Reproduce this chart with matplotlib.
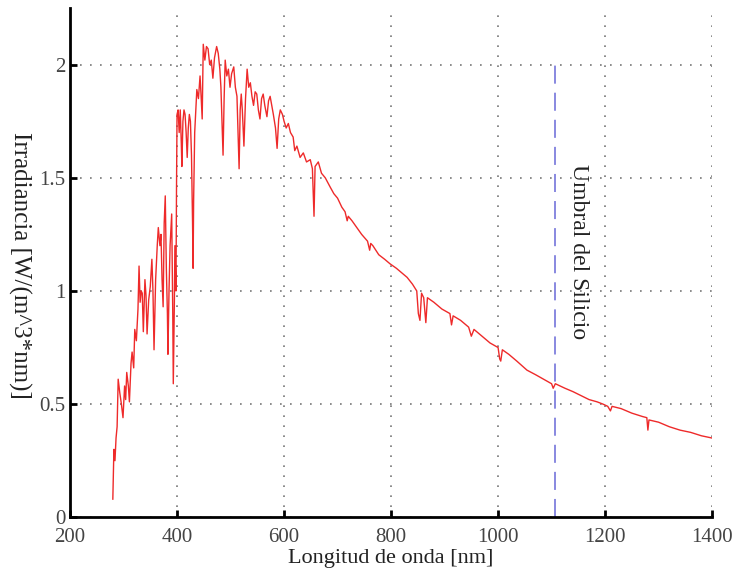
import matplotlib
matplotlib.use("Agg")
import matplotlib.pyplot as plt

plt.rcParams['font.family'] = ['Liberation Serif', 'DejaVu Serif']

# espectro solar leido a ojo de la figura
wl = [280, 282, 284, 286, 288, 290, 293, 296, 299, 302, 304, 306, 309, 311, 314, 316, 319, 321, 324, 327,
      329, 331, 333, 335, 337, 340, 342, 344, 347, 350, 353, 355, 357, 360, 363, 365, 368, 370, 372, 374,
      376, 378, 380, 382, 383, 385, 387, 390, 392, 393, 395, 396, 398, 399, 400, 402, 404, 406, 408, 409,
      411, 413, 415, 417, 419, 421, 423, 425, 427, 429, 430, 431, 433, 435, 437, 440, 443, 445, 447, 449,
      452, 455, 458, 461, 464, 467, 470, 474, 477, 480, 482, 484, 486, 488, 490, 493, 496, 499, 502, 506,
      509, 512, 514, 516, 518, 520, 522, 525, 528, 531, 534, 537, 540, 543, 546, 549, 552, 555, 558, 561,
      564, 568, 571, 574, 577, 580, 584, 587, 590, 593, 597, 600, 604, 608, 612, 617, 620, 624, 630, 636,
      642, 649, 653, 656, 658, 664, 670, 677, 686, 693, 700, 708, 714, 718, 720, 727, 736, 745, 756, 760,
      762, 766, 777, 788, 798, 810, 820, 830, 840, 848, 851, 854, 857, 861, 865, 868, 880, 895, 910, 913,
      916, 930, 945, 950, 955, 970, 985, 1000, 1003, 1005, 1008, 1020, 1035, 1054, 1070, 1085, 1100, 1103, 1107, 1125,
      1140, 1153, 1170, 1185, 1196, 1205, 1210, 1213, 1230, 1250, 1270, 1278, 1280, 1282, 1300, 1320, 1340, 1360, 1380, 1400]
irr = [0.08, 0.30, 0.25, 0.35, 0.40, 0.61, 0.55, 0.50, 0.44, 0.58, 0.52, 0.64, 0.58, 0.51, 0.68, 0.73, 0.66, 0.83, 0.78, 0.92,
       1.11, 0.95, 1.00, 0.99, 0.82, 1.05, 0.98, 0.81, 0.96, 1.02, 1.14, 1.00, 0.74, 1.05, 1.20, 1.28, 1.20, 1.25, 1.05, 0.93,
       1.30, 1.42, 1.10, 0.90, 0.72, 1.00, 1.20, 1.34, 0.90, 0.59, 0.95, 1.20, 1.00, 1.45, 1.78, 1.80, 1.70, 1.80, 1.65, 1.55,
       1.75, 1.80, 1.78, 1.70, 1.59, 1.72, 1.78, 1.75, 1.60, 1.30, 1.10, 1.40, 1.70, 1.80, 1.89, 1.85, 1.95, 1.86, 1.76, 2.09,
       2.02, 2.08, 2.07, 2.00, 2.02, 1.94, 2.03, 2.08, 2.05, 1.98, 1.90, 1.75, 1.60, 1.85, 2.02, 1.95, 1.98, 1.90, 1.96, 1.99,
       1.90, 1.86, 1.70, 1.54, 1.80, 1.87, 1.80, 1.64, 1.85, 1.98, 1.90, 1.92, 1.86, 1.82, 1.88, 1.87, 1.80, 1.76, 1.85, 1.87,
       1.82, 1.77, 1.84, 1.86, 1.82, 1.78, 1.72, 1.63, 1.76, 1.80, 1.78, 1.75, 1.72, 1.74, 1.70, 1.68, 1.62, 1.64, 1.59, 1.61,
       1.57, 1.58, 1.54, 1.33, 1.55, 1.57, 1.52, 1.50, 1.46, 1.43, 1.41, 1.37, 1.35, 1.31, 1.33, 1.31, 1.28, 1.25, 1.22, 1.18,
       1.21, 1.20, 1.16, 1.14, 1.12, 1.10, 1.08, 1.06, 1.03, 1.00, 0.90, 0.87, 0.99, 0.97, 0.86, 0.97, 0.95, 0.92, 0.90, 0.85,
       0.89, 0.87, 0.84, 0.80, 0.83, 0.80, 0.77, 0.75, 0.70, 0.69, 0.74, 0.72, 0.69, 0.65, 0.63, 0.61, 0.59, 0.57, 0.59, 0.57,
       0.555, 0.54, 0.52, 0.51, 0.50, 0.49, 0.47, 0.49, 0.48, 0.46, 0.445, 0.44, 0.385, 0.43, 0.42, 0.40, 0.385, 0.375, 0.36, 0.35]

umbral = 1107
umbral_top = 2.0
xticks = [200, 400, 600, 800, 1000, 1200, 1400]
yticks = [0, 0.5, 1, 1.5, 2]

fig = plt.figure(figsize=(7.41, 5.76), dpi=100)
ax = fig.add_axes([0.0945, 0.102, 0.8665, 0.884])

ax.plot(wl, irr, color='#ee2a2a', lw=1.0)
ax.plot([umbral, umbral], [0, umbral_top], color='#7f7fdd', lw=1.3, dashes=(10, 5))

ax.set_xlim(200, 1400)
ax.set_ylim(0, 2.25)
ax.set_xticks(xticks)
ax.set_yticks(yticks)
ax.set_yticklabels(['0', '0.5', '1', '1.5', '2'])
ax.grid(True, color='#777777', linestyle=(0, (1, 5)), lw=1.2)

for s in ['top', 'right']:
    ax.spines[s].set_visible(False)
for s in ['left', 'bottom']:
    ax.spines[s].set_linewidth(2)
ax.tick_params(direction='in', length=5, width=2, labelsize=15, labelcolor='#444444')
ax.tick_params(axis='x', pad=8)

ax.set_xlabel('Longitud de onda [nm]', fontsize=16, color='#222222', labelpad=1)
fig.text(20 / 741, 1 - 265 / 576, 'Irradiancia [W/(m^3*nm)]', fontsize=18, color='#222222',
         rotation=270, ha='center', va='center')

ax.text(1150, 1.56, 'Umbral del Silicio', rotation=270, fontsize=17, color='#222222', ha='center', va='top')

fig.savefig('out.png', dpi=100)
